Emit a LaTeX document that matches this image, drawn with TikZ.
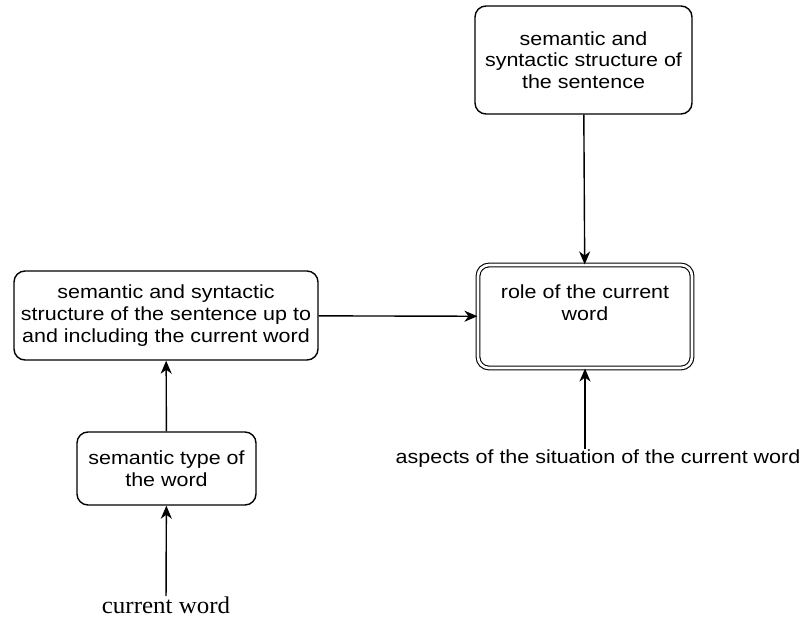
\documentclass[tikz,border=0pt]{standalone}
\usepackage{fontspec}
\setmainfont{Liberation Sans}[FakeStretch=1.13]
\newfontfamily\serifword{Liberation Serif}[FakeStretch=1.04]
\usetikzlibrary{graphs}
\usetikzlibrary{arrows.meta}

\begin{document}
\begin{tikzpicture}[x=1pt, y=-1pt,
	box/.style={draw, rounded corners=11pt, line width=1.4pt, align=center, inner sep=2pt,
		font=\fontsize{19}{21.7}\selectfont},
	dbox/.style={box, double, double distance=2.6pt, line width=1.1pt},
	plain/.style={align=center, inner sep=1pt},
	>={Stealth[length=13pt, width=11pt, inset=4pt]}]
	\useasboundingbox (0,0) rectangle (802,626);
	%Boksene her
	\node[box, minimum width=217pt, minimum height=108pt] (full) at (583.5,60) {semantic and\\syntactic structure of\\the sentence};
	\node[dbox, minimum width=214pt, minimum height=103pt] (role) at (585,316.5) {role of the current\\word\\[6pt]};
	\node[box, minimum width=304pt, minimum height=89pt] (partial) at (166,315.5) {semantic and syntactic\\structure of the sentence up to\\and including the current word};
	\node[box, minimum width=179pt, minimum height=73pt] (type) at (166.5,468.5) {semantic type of\\the word};
	\node[plain, font=\fontsize{19}{21.7}\selectfont, anchor=north] (asp) at (598,449) {aspects of the situation of the current word};
	\node[plain, font=\serifword\fontsize{24}{27}\selectfont, anchor=north] (cw) at (166,596) {current word};

	%Pilene her
	\graph[edges={line width=1.4pt}] {
		(cw) -> (type) -> (partial) -> (role);
		(full) -> (role);
		(asp.north -| role.south) -> (role);
	};
\end{tikzpicture}
\end{document}
